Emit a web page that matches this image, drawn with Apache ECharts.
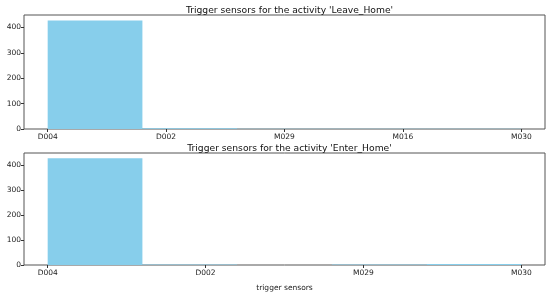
<!DOCTYPE html>
<html><head><meta charset="utf-8">
<script src="https://cdn.jsdelivr.net/npm/echarts@6/dist/echarts.min.js"></script>
<style>html,body{margin:0;padding:0;background:#fff}#c{width:550px;height:293px}</style>
</head><body><div id="c"></div>
<script>
// Top panel: Leave_Home
const leaveCategories = ['D004', 'D002', 'M029', 'M016', 'M030'];
const leaveBinEdges = [0, 0.8, 1.6, 2.4, 3.2, 4.0];
const leaveCounts = [428, 3, 1, 1, 1];
// Bottom panel: Enter_Home
const enterCategories = ['D004', 'D002', 'M029', 'M030'];
const enterBinEdges = [0, 0.6, 1.2, 1.8, 2.4, 3.0];
const enterCounts = [426, 2, 0, 2, 4];
const yTicks = [0, 100, 200, 300, 400];
const titles = ["Trigger sensors for the activity 'Leave_Home'", "Trigger sensors for the activity 'Enter_Home'"];
const xLabel = 'trigger sensors';

const font = 'DejaVu Sans';
function binsData(edges, counts) {
  return counts.map((c, i) => [edges[i], edges[i + 1], c]);
}
function renderBin(params, api) {
  const p0 = api.coord([api.value(0), api.value(2)]);
  const p1 = api.coord([api.value(1), 0]);
  return {
    type: 'rect',
    shape: { x: p0[0], y: p0[1], width: p1[0] - p0[0], height: p1[1] - p0[1] },
    style: { fill: '#87CEEB' }
  };
}
function xAxisFor(cats, idx, withName) {
  const n = cats.length - 1;
  const ticks = cats.map((_, i) => i);
  return {
    type: 'value', gridIndex: idx, min: -0.05 * n, max: n * 1.05,
    splitLine: { show: false },
    axisLine: { show: false, onZero: false },
    axisTick: { show: true, length: 3, customValues: ticks, lineStyle: { color: '#333' } },
    axisLabel: { customValues: ticks, formatter: v => cats[Math.round(v)] || '', fontFamily: font, fontSize: 7.5, color: '#222', margin: 4 },
    name: withName ? xLabel : '', nameLocation: 'middle', nameGap: 19,
    nameTextStyle: { fontFamily: font, fontSize: 7.5, color: '#222' }
  };
}
function yAxisFor(counts, idx) {
  const mx = Math.max(...counts) * 1.05;
  return {
    type: 'value', gridIndex: idx, min: 0, max: mx,
    splitLine: { show: false },
    axisLine: { show: false, onZero: false },
    axisTick: { show: true, length: 3, customValues: yTicks, lineStyle: { color: '#333' } },
    axisLabel: { customValues: yTicks, fontFamily: font, fontSize: 7.5, color: '#222', margin: 3 }
  };
}
const chart = echarts.init(document.getElementById('c'), null, { renderer: 'canvas' });
chart.setOption({
  animation: false,
  backgroundColor: '#fff',
  title: [
    { text: titles[0], left: 284.5, textAlign: 'center', top: 1, textStyle: { fontFamily: font, fontSize: 9.2, fontWeight: 'normal', color: '#111' } },
    { text: titles[1], left: 284.5, textAlign: 'center', top: 139, textStyle: { fontFamily: font, fontSize: 9.2, fontWeight: 'normal', color: '#111' } }
  ],
  grid: [
    { left: 24, right: 5, top: 15, height: 114, show: true, borderColor: '#555', borderWidth: 1, backgroundColor: 'transparent' },
    { left: 24, right: 5, top: 153, height: 113, show: true, borderColor: '#555', borderWidth: 1, backgroundColor: 'transparent' }
  ],
  xAxis: [xAxisFor(leaveCategories, 0, false), xAxisFor(enterCategories, 1, true)],
  yAxis: [yAxisFor(leaveCounts, 0), yAxisFor(enterCounts, 1)],
  series: [
    { type: 'custom', xAxisIndex: 0, yAxisIndex: 0, renderItem: renderBin, encode: { x: [0, 1], y: 2 }, data: binsData(leaveBinEdges, leaveCounts), clip: true },
    { type: 'custom', xAxisIndex: 1, yAxisIndex: 1, renderItem: renderBin, encode: { x: [0, 1], y: 2 }, data: binsData(enterBinEdges, enterCounts), clip: true }
  ]
});
</script>
</body></html>
